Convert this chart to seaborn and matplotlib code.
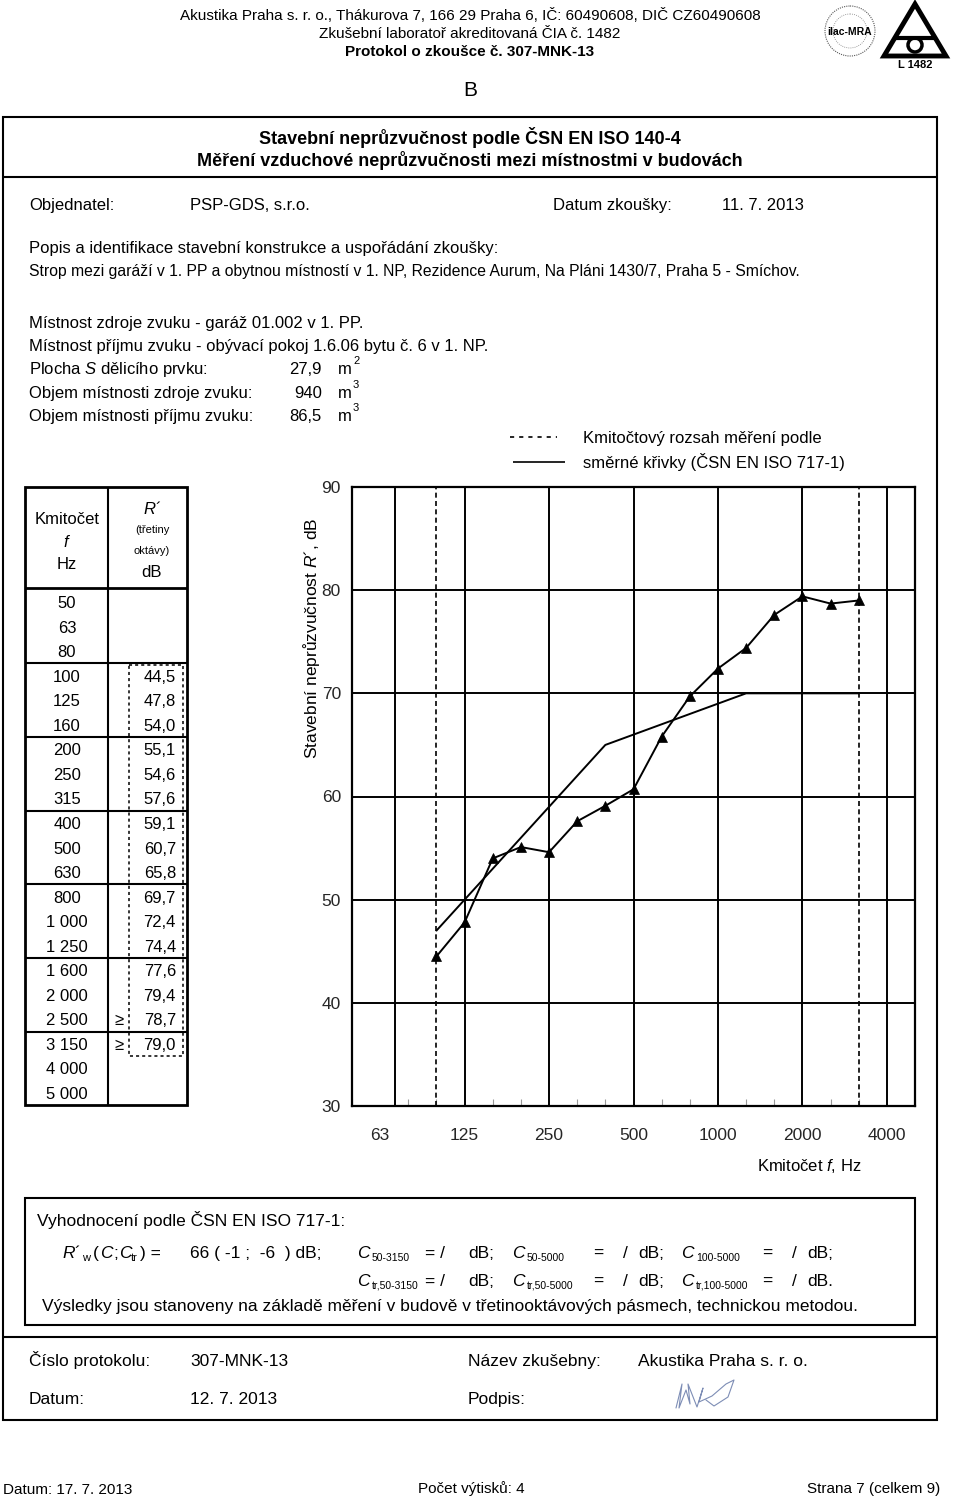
import pandas as pd
import seaborn as sns
import matplotlib.pyplot as plt
from matplotlib import font_manager
from matplotlib.patches import Rectangle, Circle, Polygon

# Hodnoty z protokolu (třetinooktávová pásma)
pasma = ["50", "63", "80", "100", "125", "160", "200", "250", "315", "400",
         "500", "630", "800", "1 000", "1 250", "1 600", "2 000", "2 500",
         "3 150", "4 000", "5 000"]
mereni_pasma = ["100", "125", "160", "200", "250", "315", "400", "500", "630",
                "800", "1 000", "1 250", "1 600", "2 000", "2 500", "3 150"]
r_hodnoty = [44.5, 47.8, 54.0, 55.1, 54.6, 57.6, 59.1, 60.7, 65.8,
             69.7, 72.4, 74.4, 77.6, 79.4, 78.7, 79.0]
smerna_krivka = [47, 50, 53, 56, 59, 62, 65, 66, 67, 68, 69, 70, 70, 70, 70, 70]
vetsi_nez = ["2 500", "3 150"]
osa_x_pasma = ["63", "125", "250", "500", "1 000", "2 000", "4 000"]
osa_x_popisky = ["63", "125", "250", "500", "1000", "2000", "4000"]
osa_y = [30, 40, 50, 60, 70, 80, 90]

df = pd.DataFrame({"pasmo": mereni_pasma, "R": r_hodnoty, "ref": smerna_krivka})
df["idx"] = [pasma.index(p) for p in df["pasmo"]]

sns.set_theme(style="white")
plt.rcParams["font.family"] = ["Liberation Sans", "DejaVu Sans"]
plt.rcParams["mathtext.fontset"] = "custom"
plt.rcParams["mathtext.rm"] = "Liberation Sans"
plt.rcParams["mathtext.it"] = "Liberation Sans:italic"

jmena = {f.name for f in font_manager.fontManager.ttflist}
UZKE = "Liberation Sans Narrow" if "Liberation Sans Narrow" in jmena else "Liberation Sans"
UZKE_K = 1.1 if UZKE == "Liberation Sans Narrow" else 1.0

BODY = 12
TAB = 12
EVAL = 12.5

fig = plt.figure(figsize=(9.6, 15.02), dpi=100)
bg = fig.add_axes([0, 0, 1, 1])
bg.set_xlim(0, 960)
bg.set_ylim(1502, 0)
bg.axis("off")


def txt(x, y, s, size=BODY, **kw):
    # y = střed velkých písmen, text se sází na účaří
    if "va" not in kw:
        kw["va"] = "baseline"
        y = y + 0.5 * size
    bg.text(x, y, s, fontsize=size, color="black", **kw)


def utxt(x, y, s, size=10, **kw):
    txt(x, y, s, size * UZKE_K, family=UZKE, **kw)


def cara(xs, ys, lw=1.5, **kw):
    bg.plot(xs, ys, color="black", lw=lw, solid_capstyle="butt", **kw)


# Hlavička
utxt(470, 14, "Akustika Praha s. r. o., Thákurova 7, 166 29 Praha 6, IČ: 60490608, DIČ CZ60490608", 11, ha="center")
utxt(470, 32, "Zkušební laboratoř akreditovaná ČIA č. 1482", 11, ha="center")
utxt(470, 50, "Protokol o zkoušce č. 307-MNK-13", 11, ha="center", weight="bold")
txt(470, 88, "B", 15, ha="center")

# loga
bg.add_patch(Circle((850, 31), 25, fill=False, ec="0.35", lw=0.8, ls=(0, (1, 1))))
bg.add_patch(Circle((850, 31), 17, fill=False, ec="0.5", lw=0.6, ls=(0, (1, 1.5))))
txt(850, 31, "ilac-MRA", 7.5, ha="center", weight="bold")
bg.add_patch(Polygon([(884, 56), (946, 56), (915, 4)], closed=True, fill=False, ec="black", lw=3.5, joinstyle="miter"))
cara([896, 934], [38, 38], lw=3)
bg.add_patch(Circle((915, 45), 7, fill=False, ec="black", lw=2.5))
txt(915, 64, "L 1482", 8, ha="center", weight="bold")

# rámeček
bg.add_patch(Rectangle((3, 117), 934, 1303, fill=False, ec="black", lw=1.5))
cara([3, 937], [177, 177])
txt(470, 137, "Stavební neprůzvučnost podle ČSN EN ISO 140-4", 13, ha="center", weight="bold")
txt(470, 159, "Měření vzduchové neprůzvučnosti mezi místnostmi v budovách", 13, ha="center", weight="bold")

txt(29, 204, "Objednatel:")
txt(190, 204, "PSP-GDS, s.r.o.")
txt(553, 204, "Datum zkoušky:")
txt(722, 204, "11. 7. 2013")
txt(29, 247, "Popis a identifikace stavební konstrukce a uspořádání zkoušky:")
txt(29, 270, "Strop mezi garáží v 1. PP a obytnou místností v 1. NP, Rezidence Aurum, Na Pláni 1430/7, Praha 5 - Smíchov.", 11.3)
txt(29, 322, "Místnost zdroje zvuku - garáž 01.002 v 1. PP.")
txt(29, 345, "Místnost příjmu zvuku - obývací pokoj 1.6.06 bytu č. 6 v 1. NP.")
for y, popis, hodnota, mocnina in [(368, "Plocha $S$ dělicího prvku:", "27,9", "2"),
                                   (392, "Objem místnosti zdroje zvuku:", "940", "3"),
                                   (415, "Objem místnosti příjmu zvuku:", "86,5", "3")]:
    txt(29, y, popis)
    txt(322, y, hodnota, ha="right")
    txt(338, y, "m")
    txt(353, y - 8, mocnina, 8)

# legenda
cara([510, 557], [437, 437], lw=1.2, ls=(0, (2.5, 3)))
cara([513, 565], [462, 462], lw=1.2)
txt(583, 437, "Kmitočtový rozsah měření podle")
txt(583, 462, "směrné křivky (ČSN EN ISO 717-1)")

# tabulka
T_L, T_R, T_M = 25, 187, 108
T_TOP, T_HEAD, T_BOT = 487, 588, 1105
ROW0, DR = 602, 24.55
bg.add_patch(Rectangle((T_L, T_TOP), T_R - T_L, T_BOT - T_TOP, fill=False, ec="black", lw=2))
cara([T_M, T_M], [T_TOP, T_BOT], lw=1.5)
cara([T_L, T_R], [T_HEAD, T_HEAD], lw=2)
for k in range(6):
    yy = ROW0 + (2.5 + 3 * k) * DR
    cara([T_L, T_R], [yy, yy], lw=1.5)
txt(67, 518, "Kmitočet", TAB, ha="center")
txt(67, 541, "$f$", TAB, ha="center")
txt(67, 563, "Hz", TAB, ha="center")
txt(152, 508, "$R$´", TAB, ha="center")
txt(152, 529, "(třetiny", 8, ha="center")
txt(152, 550, "oktávy)", 8, ha="center")
txt(152, 571, "dB", TAB, ha="center")
for i, p in enumerate(pasma):
    txt(67, ROW0 + i * DR, p, TAB, ha="center")
for p, r in zip(mereni_pasma, r_hodnoty):
    i = pasma.index(p)
    txt(176, ROW0 + i * DR, f"{r:.1f}".replace(".", ","), TAB, ha="right")
for p in vetsi_nez:
    txt(119, ROW0 + pasma.index(p) * DR, "≥", TAB, ha="center")
i0 = pasma.index(mereni_pasma[0])
i1 = pasma.index(mereni_pasma[-1])
bg.add_patch(Rectangle((129, ROW0 + (i0 - 0.5) * DR + 2), 54, (i1 - i0 + 1) * DR - 2,
                       fill=False, ec="black", lw=1.1, ls=(0, (2, 2))))

# graf
X0, X1, Y0, Y1 = 352, 915, 487, 1106
ax = fig.add_axes([X0 / 960, 1 - Y1 / 1502, (X1 - X0) / 960, (Y1 - Y0) / 1502])
ax.patch.set_alpha(0)
ax.set_xlim(0, len(pasma) - 1)
ax.set_ylim(osa_y[0], osa_y[-1])
for y in osa_y[1:-1]:
    ax.axhline(y, color="black", lw=1.4, zorder=1)
for x in [1.53, 4, 7, 10, 13, 16, 19]:
    ax.axvline(x, color="black", lw=1.4, zorder=1)
for p in [mereni_pasma[0], mereni_pasma[-1]]:
    ax.axvline(pasma.index(p), color="black", lw=1.2, ls=(0, (3, 2)), zorder=1)
sns.lineplot(data=df, x="idx", y="ref", color="black", lw=1.4, ax=ax, zorder=3)
sns.lineplot(data=df, x="idx", y="R", color="black", lw=1.4, marker="^", markersize=7,
             markeredgecolor="black", markeredgewidth=0.5, ax=ax, zorder=4)
for s in ax.spines.values():
    s.set_color("black")
    s.set_linewidth(1.6)
ax.set_yticks(osa_y)
ax.set_yticklabels([str(v) for v in osa_y], fontsize=12.5)
ax.set_xticks([pasma.index(p) for p in osa_x_pasma])
ax.set_xticklabels(osa_x_popisky, fontsize=12.5)
ax.set_xticks(range(len(pasma)), minor=True)
ax.tick_params(axis="y", length=0, pad=8)
ax.tick_params(axis="x", which="major", length=0, pad=16)
ax.tick_params(axis="x", which="minor", bottom=True, direction="in", length=5, width=0.8, color="0.6")
ax.set_xlabel("")
ax.set_ylabel("")
txt(311, 638, "Stavební neprůzvučnost $R$´, dB", 12.5, ha="center", va="center", rotation=90)
txt(862, 1165, "Kmitočet $f$, Hz", 12, ha="right")

# vyhodnocení
bg.add_patch(Rectangle((25, 1198), 890, 127, fill=False, ec="black", lw=1.5))
utxt(37, 1220, "Vyhodnocení podle ČSN EN ISO 717-1:", EVAL)
utxt(62, 1252, "$R$´", EVAL)
utxt(82, 1257, "w", 8)
utxt(93, 1252, "(", EVAL)
utxt(100, 1252, "$C$", EVAL)
utxt(113, 1252, ";", EVAL)
utxt(119, 1252, "$C$", EVAL)
utxt(131, 1257, "tr", 8)
utxt(140, 1252, ") =", EVAL)
utxt(190, 1252, "66 ( -1 ;  -6  ) dB;", EVAL)
for y, zn, sub in [(1252, "dB;", ["50-3150", "50-5000", "100-5000"]),
                   (1280, None, ["tr,50-3150", "tr,50-5000", "tr,100-5000"])]:
    for j, (x, s) in enumerate(zip([357, 512, 681], sub)):
        utxt(x, y, "$C$", EVAL)
        utxt(x + 15, y + 5, s, 7.5)
        konec = "dB." if (zn is None and j == 2) else "dB;"
        if j == 0:
            utxt(x + 68, y, "= /", EVAL)
            utxt(x + 111, y, konec, EVAL)
        else:
            utxt(x + 81, y, "=", EVAL)
            utxt(x + 111, y, "/", EVAL)
            utxt(x + 126, y, konec, EVAL)
utxt(42, 1305, "Výsledky jsou stanoveny na základě měření v budově v třetinooktávových pásmech, technickou metodou.", EVAL)

cara([3, 937], [1337, 1337])
utxt(29, 1360, "Číslo protokolu:", EVAL)
utxt(190, 1360, "307-MNK-13", EVAL)
utxt(468, 1360, "Název zkušebny:", EVAL)
utxt(638, 1360, "Akustika Praha s. r. o.", EVAL)
utxt(29, 1398, "Datum:", EVAL)
utxt(190, 1398, "12. 7. 2013", EVAL)
utxt(468, 1398, "Podpis:", EVAL)
bg.plot([676, 682, 679, 686, 690, 688, 697, 703, 699, 712, 726, 734, 728, 714, 706],
        [1408, 1384, 1408, 1390, 1404, 1384, 1407, 1388, 1402, 1396, 1384, 1380, 1397, 1406, 1400],
        color="#7d8db5", lw=0.8)

# zápatí
utxt(3, 1488, "Datum: 17. 7. 2013", 11)
utxt(418, 1488, "Počet výtisků: 4", 11)
utxt(940, 1488, "Strana 7 (celkem 9)", 11, ha="right")

fig.savefig("out.png", dpi=100)
